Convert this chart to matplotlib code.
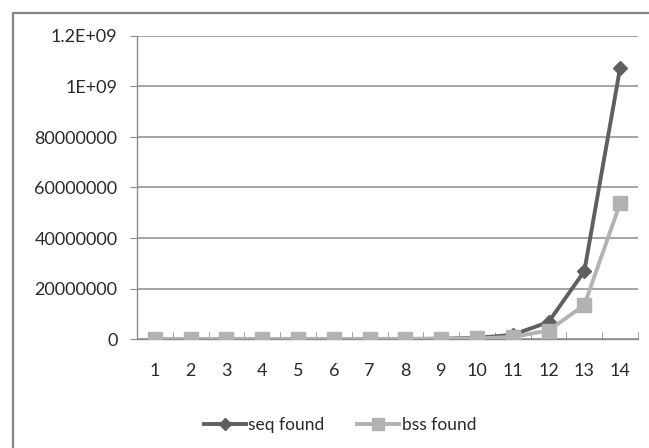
import numpy as np
import matplotlib
matplotlib.use("Agg")
import matplotlib.pyplot as plt
from matplotlib.patches import Rectangle
from matplotlib.lines import Line2D

# data
steps = list(range(1, 15))
seq_found = [16, 64, 256, 1024, 4096, 16384, 65536, 262144, 1048576,
             4194304, 16777216, 67108864, 268435456, 1073741824]
bss_found = [8, 32, 128, 512, 2048, 8192, 32768, 131072, 524288,
             2097152, 8388608, 33554432, 134217728, 536870912]
ytick_vals = [0, 2e8, 4e8, 6e8, 8e8, 1e9, 1.2e9]
ytick_labels = ["0", "20000000", "40000000", "60000000", "80000000", "1E+09", "1.2E+09"]

plt.rcParams['font.family'] = ['Lato', 'DejaVu Sans']

W, H = 649, 448
fig = plt.figure(figsize=(W / 100, H / 100), dpi=100)
fig.patch.set_facecolor('white')

# outer chart border (right/bottom run off the image)
fig.patches.append(Rectangle((13 / W, -0.05), 1.0, 1 - 13 / H + 0.05,
                             transform=fig.transFigure, fill=False,
                             edgecolor='#868686', linewidth=1.6, zorder=0))

left, right, top, bottom = 137, 638, 36, 339
ax = fig.add_axes([left / W, 1 - bottom / H, (right - left) / W, (bottom - top) / H])

dark = '#5f5f5f'
light = '#b2b2b2'
txt = '#2a2a2a'
ax.plot(steps, seq_found, color=dark, lw=2.8, marker='D', ms=6.8,
        mec=dark, mfc=dark, zorder=3)
ax.plot(steps, bss_found, color=light, lw=2.8, marker='s', ms=10,
        mec=light, mfc=light, zorder=4)

ax.set_xlim(0.5, 14.5)
ax.set_ylim(0, 1.2e9)
ax.set_yticks(ytick_vals)
ax.set_yticklabels(ytick_labels)
ax.set_xticks(steps)
ax.set_xticks(np.arange(0.5, 15, 1), minor=True)
ax.grid(axis='y', color='#8c8c8c', lw=1.1)
ax.set_axisbelow(True)

for s in ['top', 'right']:
    ax.spines[s].set_visible(False)
for s in ['left', 'bottom']:
    ax.spines[s].set_color('#8c8c8c')
    ax.spines[s].set_linewidth(1.0)

ax.tick_params(axis='x', which='major', length=0, pad=17, labelsize=13, labelcolor=txt)
ax.tick_params(axis='x', which='minor', length=5, direction='in', color='#8c8c8c')
ax.tick_params(axis='y', length=5, direction='out', color='#8c8c8c', pad=9,
               labelsize=13, labelcolor=txt)

handles = [Line2D([], [], color=dark, lw=2.8, marker='D', ms=6, mfc=dark, mec=dark),
           Line2D([], [], color=light, lw=2.8, marker='s', ms=8, mfc=light, mec=light)]
leg = fig.legend(handles, ['seq found', 'bss found'], loc='center',
                 bbox_to_anchor=(340 / W, 1 - 425 / H), ncol=2, frameon=False,
                 fontsize=12.5, handlelength=2.4, handletextpad=0.15, columnspacing=1.9)
for t in leg.get_texts():
    t.set_color(txt)

fig.savefig('out.png', dpi=100, facecolor='white')
